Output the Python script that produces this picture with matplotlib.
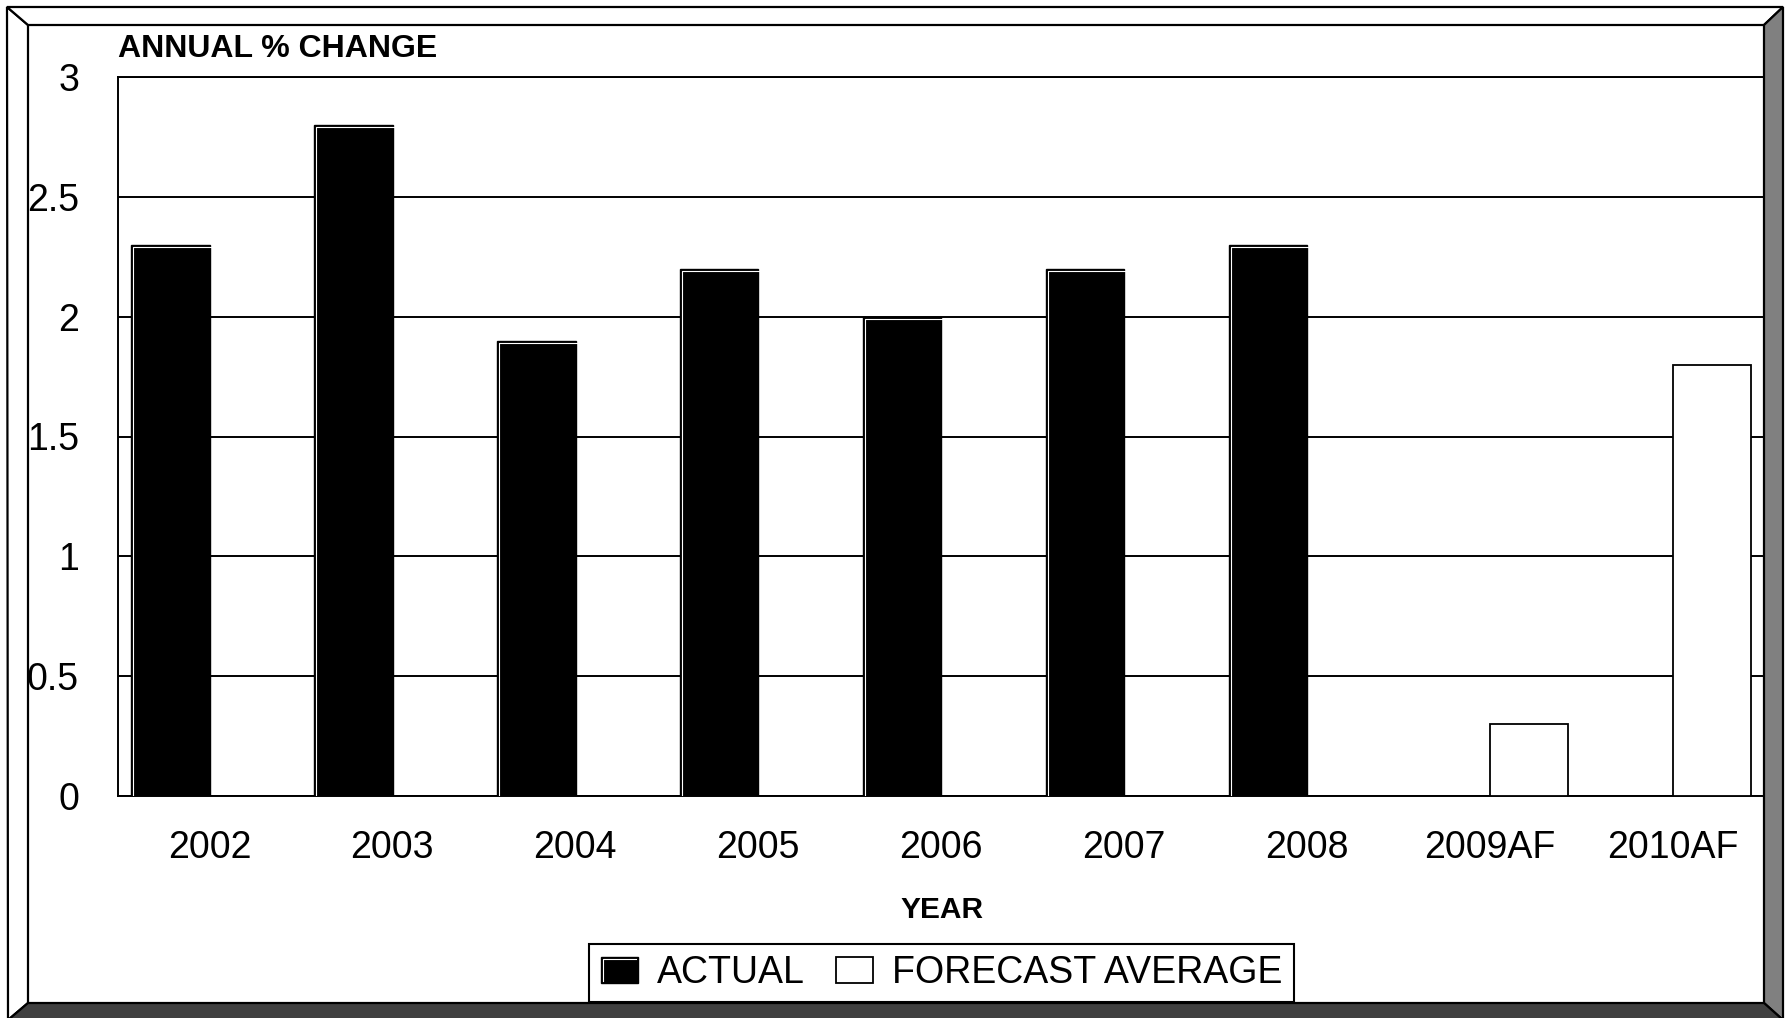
import matplotlib
matplotlib.use("Agg")
import matplotlib.pyplot as plt
import numpy as np
from matplotlib.patches import Polygon, Rectangle, Patch
from matplotlib.lines import Line2D
from matplotlib.legend_handler import HandlerBase
from matplotlib.transforms import ScaledTranslation

# data
years = ["2002", "2003", "2004", "2005", "2006", "2007", "2008", "2009AF", "2010AF"]
actual = [2.3, 2.8, 1.9, 2.2, 2.0, 2.2, 2.3, np.nan, np.nan]
forecast = [np.nan, np.nan, np.nan, np.nan, np.nan, np.nan, np.nan, 0.3, 1.8]
series_labels = ["ACTUAL", "FORECAST AVERAGE"]

W, H = 1789, 1018
plt.rcParams['font.family'] = ['Liberation Sans', 'DejaVu Sans']

fig = plt.figure(figsize=(W / 100, H / 100), dpi=100)


def fpx(x, y):
    # pixel position (from top-left) -> figure fraction
    return (x / W, 1 - y / H)


# plot area
ax = fig.add_axes([118 / W, 1 - 796 / H, (1764 - 118) / W, (796 - 77) / H])
x = np.arange(len(years))
bw = 0.43
b1 = ax.bar(x - 0.213, actual, width=bw, color='black', edgecolor='black', linewidth=1.0, zorder=3)
b2 = ax.bar(x + 0.215, forecast, width=bw, color='white', edgecolor='black', linewidth=1.3, zorder=3)

# white highlight on top/left of the dark bars
shift = ax.transData + ScaledTranslation(0.02, -0.02, fig.dpi_scale_trans)
for rect in b1:
    h = rect.get_height()
    if np.isnan(h):
        continue
    x0 = rect.get_x()
    ax.plot([x0, x0, x0 + rect.get_width()], [0, h, h], color='white', lw=0.8,
            transform=shift, zorder=4, solid_capstyle='butt')

ax.set_xlim(-0.5, len(years) - 0.5)
ax.set_ylim(0, 3)
ax.set_yticks(np.arange(0, 3.01, 0.5))
ax.set_yticklabels(["0", "0.5", "1", "1.5", "2", "2.5", "3"])
ax.set_xticks(x)
ax.set_xticklabels(years)
ax.tick_params(axis='both', length=0, labelsize=27)
ax.tick_params(axis='y', pad=28)
ax.tick_params(axis='x', pad=24.5)
ax.yaxis.grid(True, color='black', linewidth=1.4)
ax.set_axisbelow(True)
for s in ax.spines.values():
    s.set_linewidth(1.4)
    s.set_color('black')

fig.text(118 / W, 1 - 57 / H, "ANNUAL % CHANGE", fontsize=23, fontweight='bold',
         ha='left', va='baseline')
fig.text(941.5 / W, 1 - 910 / H, "YEAR", fontsize=21.5, fontweight='bold',
         ha='center', va='center')


class HighlightHandler(HandlerBase):
    # black key box with the same white inner highlight as the bars
    def create_artists(self, legend, orig_handle, xdescent, ydescent, width, height,
                       fontsize, trans):
        x0, y0 = -xdescent, -ydescent
        box = Rectangle((x0, y0), width, height, facecolor='black', edgecolor='black',
                        linewidth=1.0, transform=trans)
        d = 1.5
        hl = Line2D([x0 + d, x0 + d, x0 + width - d], [y0 + d, y0 + height - d, y0 + height - d],
                    color='white', linewidth=0.8, transform=trans)
        return [box, hl]


handles = [Patch(facecolor='black', edgecolor='black', linewidth=1.0),
           Patch(facecolor='white', edgecolor='black', linewidth=1.3)]
leg = fig.legend(handles, series_labels, loc='center', bbox_to_anchor=fpx(941.5, 973),
                 ncol=2, frameon=True, fancybox=False, edgecolor='black', framealpha=1,
                 fontsize=27, handlelength=1.0, handleheight=0.7, handletextpad=0.5,
                 columnspacing=0.83, borderpad=0.3, borderaxespad=0,
                 handler_map={handles[0]: HighlightHandler()})
leg.get_frame().set_linewidth(1.5)
leg.set_zorder(5)

# bevelled frame around the chart
frame_kw = dict(transform=fig.transFigure, edgecolor='black', linewidth=1.6, zorder=6)
fig.patches.append(Polygon([fpx(7, 7), fpx(28, 25), fpx(28, 1003), fpx(8, 1020)],
                           facecolor='white', **frame_kw))
fig.patches.append(Polygon([fpx(7, 7), fpx(1783, 7), fpx(1764, 25), fpx(28, 25)],
                           facecolor='white', **frame_kw))
fig.patches.append(Polygon([fpx(1783, 7), fpx(1783, 1020), fpx(1764, 1003), fpx(1764, 25)],
                           facecolor='#808080', **frame_kw))
fig.patches.append(Polygon([fpx(8, 1020), fpx(28, 1003), fpx(1764, 1003), fpx(1783, 1020)],
                           facecolor='#404040', **frame_kw))

fig.savefig("out.png", dpi=100)
